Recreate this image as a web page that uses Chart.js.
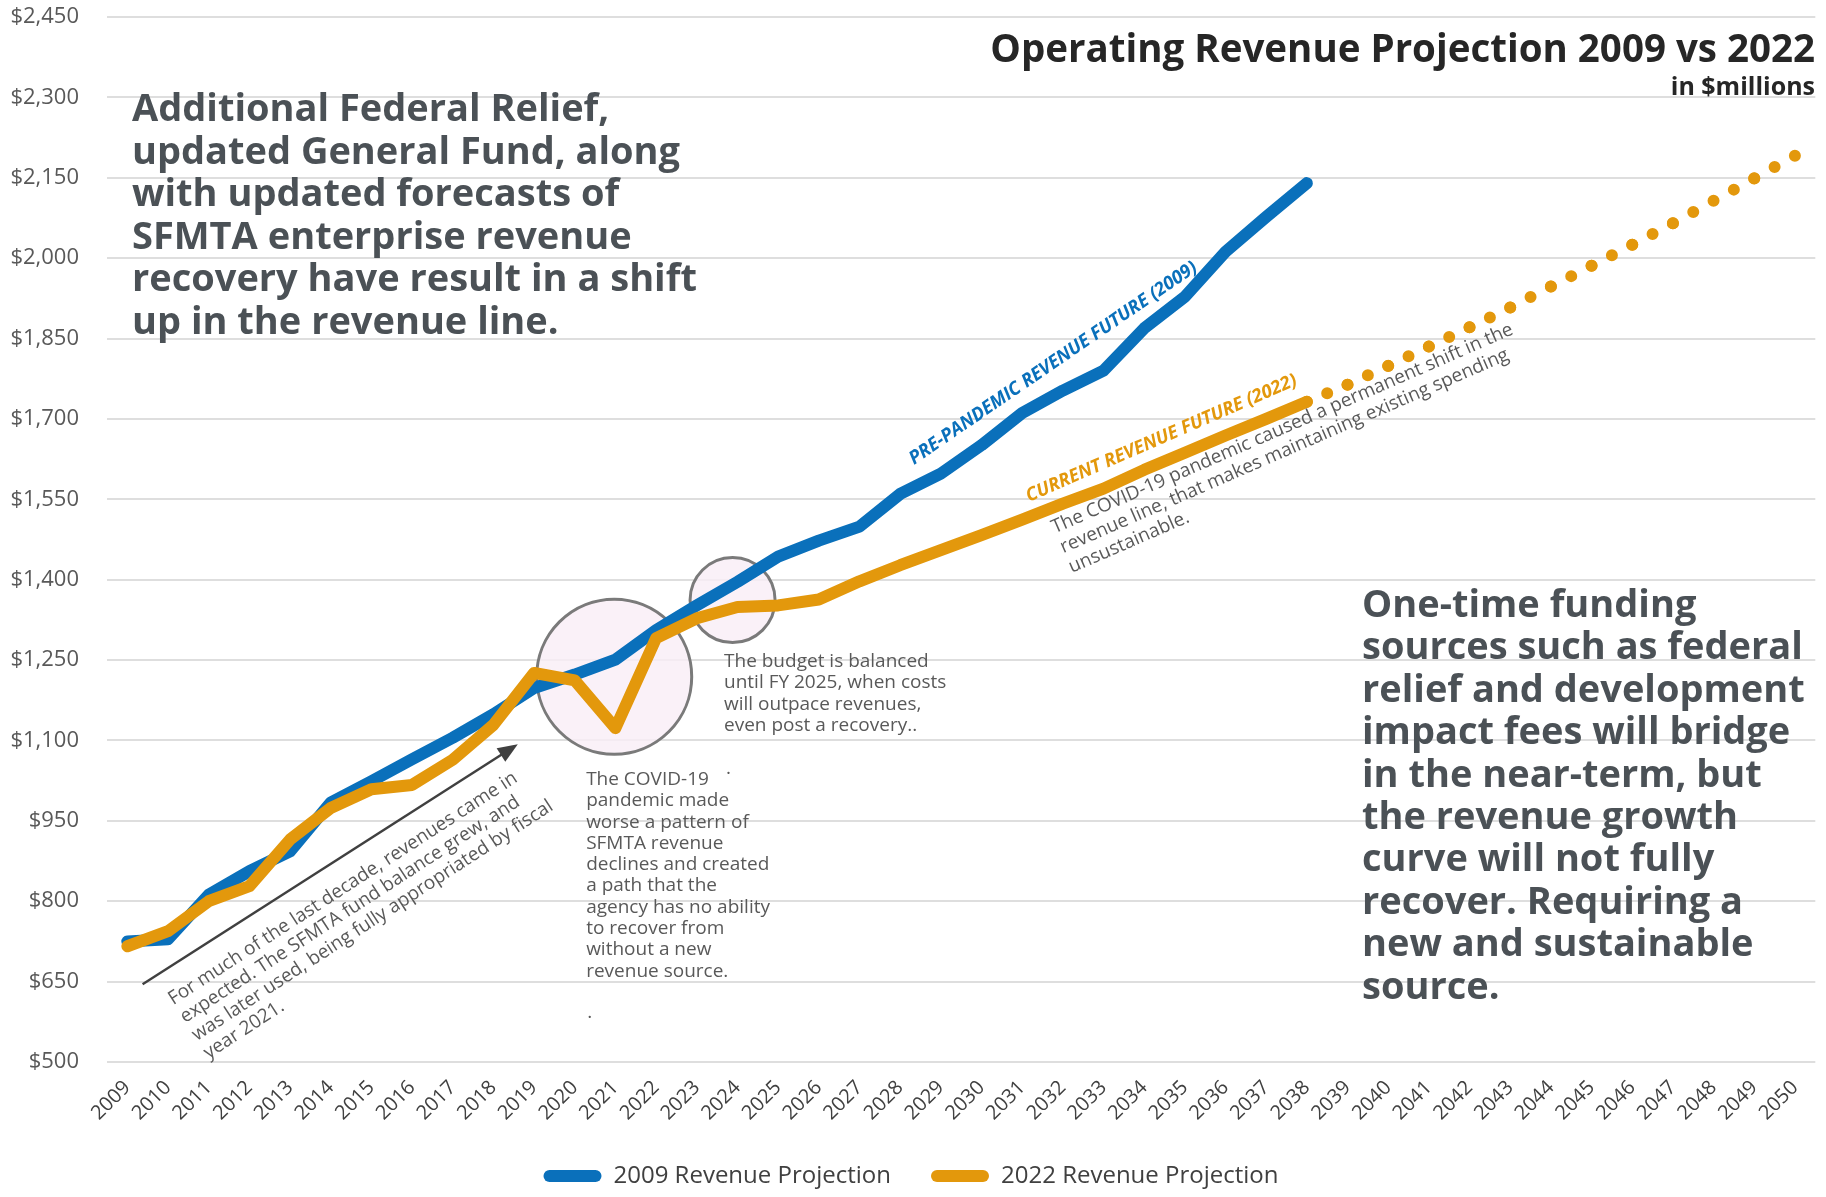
<!DOCTYPE html>
<html>
<head>
<meta charset="utf-8">
<title>Operating Revenue Projection 2009 vs 2022</title>
<script src="https://cdn.jsdelivr.net/npm/chart.js@4"></script>
<style>
  html, body { margin: 0; padding: 0; background: #fff; }
  #wrap { width: 1826px; height: 1197px; position: relative; }
</style>
</head>
<body>
<div id="wrap"><canvas id="revenue-chart"></canvas></div>
<script>
// --- DATOS ---
const years = ['2009', '2010', '2011', '2012', '2013', '2014', '2015', '2016', '2017', '2018',
  '2019', '2020', '2021', '2022', '2023', '2024', '2025', '2026', '2027', '2028',
  '2029', '2030', '2031', '2032', '2033', '2034', '2035', '2036', '2037', '2038',
  '2039', '2040', '2041', '2042', '2043', '2044', '2045', '2046', '2047', '2048',
  '2049', '2050'];

// 2009 projection (pre-pandemic), 2009-2038
const rev2009 = [725, 729, 812, 856, 893, 984, 1024, 1065, 1105, 1149,
  1198, 1223, 1251, 1306, 1352, 1396, 1443, 1473, 1499, 1560,
  1598, 1651, 1711, 1753, 1790, 1869, 1928, 2012, 2077, 2140];

// 2022 projection, 2009-2050 (dotted after 2038)
const rev2022 = [716, 744, 800, 828, 915, 974, 1009, 1017, 1064, 1129,
  1226, 1212, 1123, 1291, 1328, 1349, 1352, 1363, 1397, 1427,
  1455, 1483, 1512, 1542, 1570, 1605, 1637, 1669, 1700, 1732,
  1764, 1799, 1835, 1871, 1908, 1947, 1986, 2025, 2065, 2107,
  2149, 2191];

const dottedFrom = years.indexOf('2038');
const yMin = 500, yMax = 2450, yStep = 150;

const BLUE = '#0A70BB';
const ORANGE = '#E3980C';
const NOTE_GRAY = '#595959';

// --- TEXTOS ---
const leftNote = ['Additional Federal Relief,', 'updated General Fund, along', 'with updated forecasts of',
  'SFMTA enterprise revenue', 'recovery have result in a shift', 'up in the revenue line.'];
const rightNote = ['One-time funding', 'sources such as federal', 'relief and development',
  'impact fees will bridge', 'in the near-term, but', 'the revenue growth', 'curve will not fully',
  'recover. Requiring a', 'new and sustainable', 'source.'];
const decadeNote = ['For much of the last decade, revenues came in', 'expected. The SFMTA fund balance grew, and',
  'was later used, being fully appropriated by fiscal', 'year 2021.'];
const covidNote = ['The COVID-19', 'pandemic made', 'worse a pattern of', 'SFMTA revenue', 'declines and created',
  'a path that the', 'agency has no ability', 'to recover from', 'without a new', 'revenue source.'];
const budgetNote = ['The budget is balanced', 'until FY 2025, when costs', 'will outpace revenues,', 'even post a recovery..'];
const shiftNote = ['The COVID-19 pandemic caused a permanent shift in the', 'revenue line, that makes maintaining existing spending',
  'unsustainable.'];

const drawLines = (ctx, lines, x, y, lh) => lines.forEach((t, k) => ctx.fillText(t, x, y + k * lh));
const drawRotated = (ctx, lines, x, y, deg, lh) => {
  ctx.save();
  ctx.translate(x, y);
  ctx.rotate(deg * Math.PI / 180);
  lines.forEach((t, k) => ctx.fillText(t, 0, k * lh));
  ctx.restore();
};

// Notas, circulos y flecha (ancladas a las escalas)
const notesPlugin = {
  id: 'notes',
  beforeLayout(chart) {
    // la leyenda: mas espacio entre elementos sin hacerla mas alta
    const lg = chart.legend;
    if (lg && !lg._fixedHeight) {
      const fit = lg.fit;
      lg.fit = function () { fit.call(this); this.height = 73; };
      lg._fixedHeight = true;
    }
  },
  beforeDatasetsDraw(chart) {
    const { ctx, scales: { x, y } } = chart;
    ctx.save();
    [[11.97, 1219, 77.5], [14.88, 1362, 42.5]].forEach(([i, v, r]) => {
      ctx.beginPath();
      ctx.arc(x.getPixelForValue(i), y.getPixelForValue(v), r, 0, Math.PI * 2);
      ctx.fillStyle = 'rgba(249, 238, 246, 0.8)';
      ctx.fill();
      ctx.lineWidth = 3;
      ctx.strokeStyle = '#7a7a7a';
      ctx.stroke();
    });
    ctx.restore();
  },
  afterDraw(chart) {
    const { ctx, scales: { x, y } } = chart;
    const P = (i, v) => [x.getPixelForValue(i), y.getPixelForValue(v)];
    ctx.save();
    ctx.textBaseline = 'alphabetic';

    // titulo
    ctx.fillStyle = '#262626';
    ctx.textAlign = 'right';
    ctx.font = "bold 38.5px 'Open Sans'";
    ctx.fillText('Operating Revenue Projection 2009 vs 2022', 1815, 62);
    ctx.font = "bold 25px 'Open Sans'";
    ctx.fillText('in $millions', 1815, 95);

    // textos grandes
    ctx.textAlign = 'left';
    ctx.fillStyle = '#4b5156';
    ctx.font = "bold 38px 'Open Sans'";
    drawLines(ctx, leftNote, 132, 121, 42.5);
    drawLines(ctx, rightNote, 1362, 617, 42.4);

    // flecha
    const [ax0, ay0] = P(0.375, 645);
    const [ax1, ay1] = P(9.6, 1093);
    const ang = Math.atan2(ay1 - ay0, ax1 - ax0);
    ctx.strokeStyle = '#404040';
    ctx.fillStyle = '#404040';
    ctx.lineWidth = 2.5;
    ctx.beginPath();
    ctx.moveTo(ax0, ay0);
    ctx.lineTo(ax1 - 14 * Math.cos(ang), ay1 - 14 * Math.sin(ang));
    ctx.stroke();
    ctx.beginPath();
    ctx.moveTo(ax1, ay1);
    ctx.lineTo(ax1 - 20 * Math.cos(ang) + 8 * Math.sin(ang), ay1 - 20 * Math.sin(ang) - 8 * Math.cos(ang));
    ctx.lineTo(ax1 - 20 * Math.cos(ang) - 8 * Math.sin(ang), ay1 - 20 * Math.sin(ang) + 8 * Math.cos(ang));
    ctx.closePath();
    ctx.fill();

    // notas pequeñas
    ctx.fillStyle = NOTE_GRAY;
    ctx.font = "19px 'Open Sans'";
    drawRotated(ctx, decadeNote, ...P(1.13, 606), -33, 21.5);
    drawLines(ctx, covidNote, ...P(11.28, 1017), 21.3);
    drawLines(ctx, budgetNote, ...P(14.67, 1237.5), 21.5);
    drawRotated(ctx, shiftNote, ...P(22.8, 1486), -23.5, 21.5);
    ctx.fillText('.', ...P(14.72, 1037));
    ctx.fillText('.', ...P(11.31, 582));

    // etiquetas de las lineas
    ctx.font = "italic bold 18.5px 'Open Sans'";
    ctx.fillStyle = BLUE;
    drawRotated(ctx, ['PRE-PANDEMIC REVENUE FUTURE (2009)'], ...P(19.34, 1614), -34.4, 0);
    ctx.fillStyle = ORANGE;
    drawRotated(ctx, ['CURRENT REVENUE FUTURE (2022)'], ...P(22.17, 1545), -23.6, 0);
    ctx.restore();
  }
};

// dos puntos por tramo en la parte punteada, uno en cada vertice
const dotDash = c => {
  if (c.p0DataIndex < dottedFrom) return undefined;
  const len = Math.hypot(c.p1.x - c.p0.x, c.p1.y - c.p0.y);
  return [0, len / 2 - 0.05];
};

Chart.defaults.font.family = "'Open Sans', sans-serif";

const ctx = document.getElementById('revenue-chart').getContext('2d');
new Chart(ctx, {
  type: 'line',
  data: {
    labels: years,
    datasets: [
      {
        label: '2009 Revenue Projection',
        data: rev2009,
        borderColor: BLUE,
        backgroundColor: BLUE,
        borderWidth: 12,
        borderCapStyle: 'round',
        borderJoinStyle: 'round',
        pointRadius: 0,
        tension: 0,
        order: 2
      },
      {
        label: '2022 Revenue Projection',
        data: rev2022,
        borderColor: ORANGE,
        backgroundColor: ORANGE,
        borderWidth: 12,
        borderCapStyle: 'round',
        borderJoinStyle: 'round',
        pointRadius: 0,
        tension: 0,
        order: 1,
        segment: { borderDash: dotDash }
      }
    ]
  },
  options: {
    responsive: true,
    maintainAspectRatio: false,
    animation: false,
    layout: { padding: { top: 17, right: 4, left: 0, bottom: 0 } },
    plugins: {
      legend: {
        position: 'bottom',
        labels: {
          font: { size: 24 },
          color: '#404040',
          boxWidth: 58,
          boxHeight: 12,
          useBorderRadius: true,
          borderRadius: 6,
          padding: 40,
          sort: (a, b) => a.datasetIndex - b.datasetIndex,
          generateLabels: chart => Chart.defaults.plugins.legend.labels.generateLabels(chart)
            .map(item => ({ ...item, fillStyle: item.strokeStyle, lineWidth: 0, lineDash: [] }))
        }
      },
      tooltip: { enabled: false }
    },
    scales: {
      x: {
        offset: true,
        grid: { display: false, drawTicks: false },
        border: { display: false },
        ticks: {
          autoSkip: false,
          minRotation: 45,
          maxRotation: 45,
          padding: 14,
          color: '#404040',
          font: { size: 20 }
        },
        afterFit: s => { s.height = 62; }
      },
      y: {
        min: yMin,
        max: yMax,
        grid: { color: '#dedede', lineWidth: 2, drawTicks: false },
        border: { display: false },
        ticks: {
          stepSize: yStep,
          padding: 28,
          color: NOTE_GRAY,
          font: { size: 22 },
          callback: v => '$' + v.toLocaleString('en-US')
        },
        afterFit: s => { s.width = 107; s.paddingTop = 0; s.paddingBottom = 0; }
      }
    }
  },
  plugins: [notesPlugin]
});
</script>
</body>
</html>
